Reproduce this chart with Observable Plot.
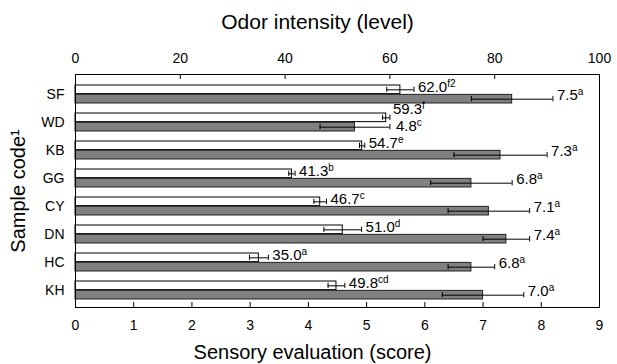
<!DOCTYPE html>
<html>
<head>
<meta charset="utf-8">
<script src="https://cdn.jsdelivr.net/npm/d3@7"></script>
<script src="https://cdn.jsdelivr.net/npm/@observablehq/plot@0.6"></script>
<style>
  html, body { margin: 0; padding: 0; background: white; }
</style>
</head>
<body>
<div id="chart"></div>
<script>
const categories = ["SF", "WD", "KB", "GG", "CY", "DN", "HC", "KH"];
const odorValues = [62.0, 59.3, 54.7, 41.3, 46.7, 51.0, 35.0, 49.8];
const odorErrors = [2.6, 0.7, 0.5, 0.6, 1.2, 3.6, 1.8, 1.6];
const odorLetters = ["f2", "f", "e", "b", "c", "d", "a", "cd"];
const sensoryValues = [7.5, 4.8, 7.3, 6.8, 7.1, 7.4, 6.8, 7.0];
const sensoryErrors = [0.7, 0.6, 0.8, 0.7, 0.7, 0.4, 0.4, 0.7];
const sensoryLetters = ["a", "c", "a", "a", "a", "a", "a", "a"];
const odorTicks = [0, 20, 40, 60, 80, 100];
const sensoryTicks = [0, 1, 2, 3, 4, 5, 6, 7, 8, 9];

// odor (0-100) is drawn against the same frame as sensory (0-9)
const k = 9 / 100;

const data = categories.map((c, i) => ({
  cat: c,
  odor: odorValues[i], oe: odorErrors[i], os: odorLetters[i],
  sens: sensoryValues[i], se: sensoryErrors[i], ss: sensoryLetters[i]
}));

const y0 = 83, y1 = 302, pad = 0.345;
const step = (y1 - y0) / (categories.length - pad);
const bw = step * (1 - pad);
const half = bw / 2;
const frameH = 364 - 74 - 57;
const crowded = d => d.cat === "WD"; // labels pushed apart where they would collide

const chart = Plot.plot({
  width: 617,
  height: 364,
  marginLeft: 75,
  marginRight: 18,
  marginTop: 74,
  marginBottom: 57,
  style: { fontFamily: "'Liberation Sans', Arial, sans-serif", background: "white", color: "black" },
  x: { domain: [0, 9] },
  y: { type: "band", domain: categories, range: [y0, y1], paddingInner: pad, paddingOuter: 0 },
  marks: [
    Plot.barX(data, { y: "cat", x1: 0, x2: d => d.odor * k, fill: "white", stroke: "black", strokeWidth: 1, insetBottom: half }),
    Plot.barX(data, { y: "cat", x1: 0, x2: d => d.sens, fill: "#808080", stroke: "#222", strokeWidth: 1, insetTop: half }),
    // odor error bars
    Plot.ruleY(data, { y: "cat", x1: d => (d.odor - d.oe) * k, x2: d => (d.odor + d.oe) * k, dy: -half / 2, stroke: "black" }),
    Plot.tickX(data, { y: "cat", x: d => (d.odor - d.oe) * k, insetTop: half / 2 - 3, insetBottom: bw - half / 2 - 3, stroke: "black" }),
    Plot.tickX(data, { y: "cat", x: d => (d.odor + d.oe) * k, insetTop: half / 2 - 3, insetBottom: bw - half / 2 - 3, stroke: "black" }),
    // sensory error bars
    Plot.ruleY(data, { y: "cat", x1: d => d.sens - d.se, x2: d => d.sens + d.se, dy: half / 2, stroke: "black" }),
    Plot.tickX(data, { y: "cat", x: d => d.sens - d.se, insetTop: half * 1.5 - 3, insetBottom: half / 2 - 3, stroke: "black" }),
    Plot.tickX(data, { y: "cat", x: d => d.sens + d.se, insetTop: half * 1.5 - 3, insetBottom: half / 2 - 3, stroke: "black" }),
    // value labels
    Plot.text(data, { filter: d => !crowded(d), y: "cat", x: d => (d.odor + d.oe) * k, text: d => d.odor.toFixed(1) + "^" + d.os, dx: 4, dy: -half / 2 - 3, textAnchor: "start", fontSize: 15, fill: "black" }),
    Plot.text(data, { filter: d => !crowded(d), y: "cat", x: d => d.sens + d.se, text: d => d.sens.toFixed(1) + "^" + d.ss, dx: 4, dy: half / 2 - 4, textAnchor: "start", fontSize: 15, fill: "black" }),
    Plot.text(data, { filter: crowded, y: "cat", x: d => (d.odor + d.oe) * k, text: d => d.odor.toFixed(1) + "^" + d.os, dx: 3, dy: -half / 2 - 9, textAnchor: "start", fontSize: 15, fill: "black" }),
    Plot.text(data, { filter: crowded, y: "cat", x: d => d.sens + d.se, text: d => d.sens.toFixed(1) + "^" + d.ss, dx: 6, dy: half / 2 - 1, textAnchor: "start", fontSize: 15, fill: "black" }),
    // inward ticks
    Plot.ruleX(sensoryTicks, { x: d => d, insetTop: frameH - 5, stroke: "black" }),
    Plot.ruleX(odorTicks, { x: d => d * k, insetBottom: frameH - 5, stroke: "black" }),
    // axes
    Plot.axisY({ tickSize: 0, tickPadding: 11, fontSize: 14, label: null }),
    Plot.axisX({ anchor: "bottom", ticks: sensoryTicks, tickSize: 0, tickPadding: 13, fontSize: 14, label: null }),
    Plot.axisX({ anchor: "top", ticks: odorTicks.map(v => v * k), tickFormat: d => String(Math.round(d / k)), tickSize: 0, tickPadding: 12, fontSize: 14, label: null }),
    // titles
    Plot.text(["Odor intensity (level)"], { text: d => d, frameAnchor: "top", dx: -20, dy: -52, lineAnchor: "middle", textAnchor: "middle", fontSize: 21, fill: "black" }),
    Plot.text(["Sensory evaluation (score)"], { text: d => d, frameAnchor: "bottom", dx: -25, dy: 45, lineAnchor: "middle", textAnchor: "middle", fontSize: 20, fill: "black" }),
    Plot.text(["Sample code¹"], { text: d => d, frameAnchor: "left", dx: -57, rotate: -90, lineAnchor: "middle", textAnchor: "middle", fontSize: 20, fill: "black" }),
    Plot.frame({ stroke: "black" })
  ]
});

// superscript significance letters
chart.querySelectorAll("text").forEach(t => {
  const s = t.textContent;
  if (s.includes("^")) {
    const [num, sup] = s.split("^");
    t.textContent = num;
    const ts = document.createElementNS("http://www.w3.org/2000/svg", "tspan");
    ts.setAttribute("font-size", "10");
    ts.setAttribute("dy", "-5");
    ts.textContent = sup;
    t.appendChild(ts);
  }
});

document.getElementById("chart").appendChild(chart);
</script>
</body>
</html>
